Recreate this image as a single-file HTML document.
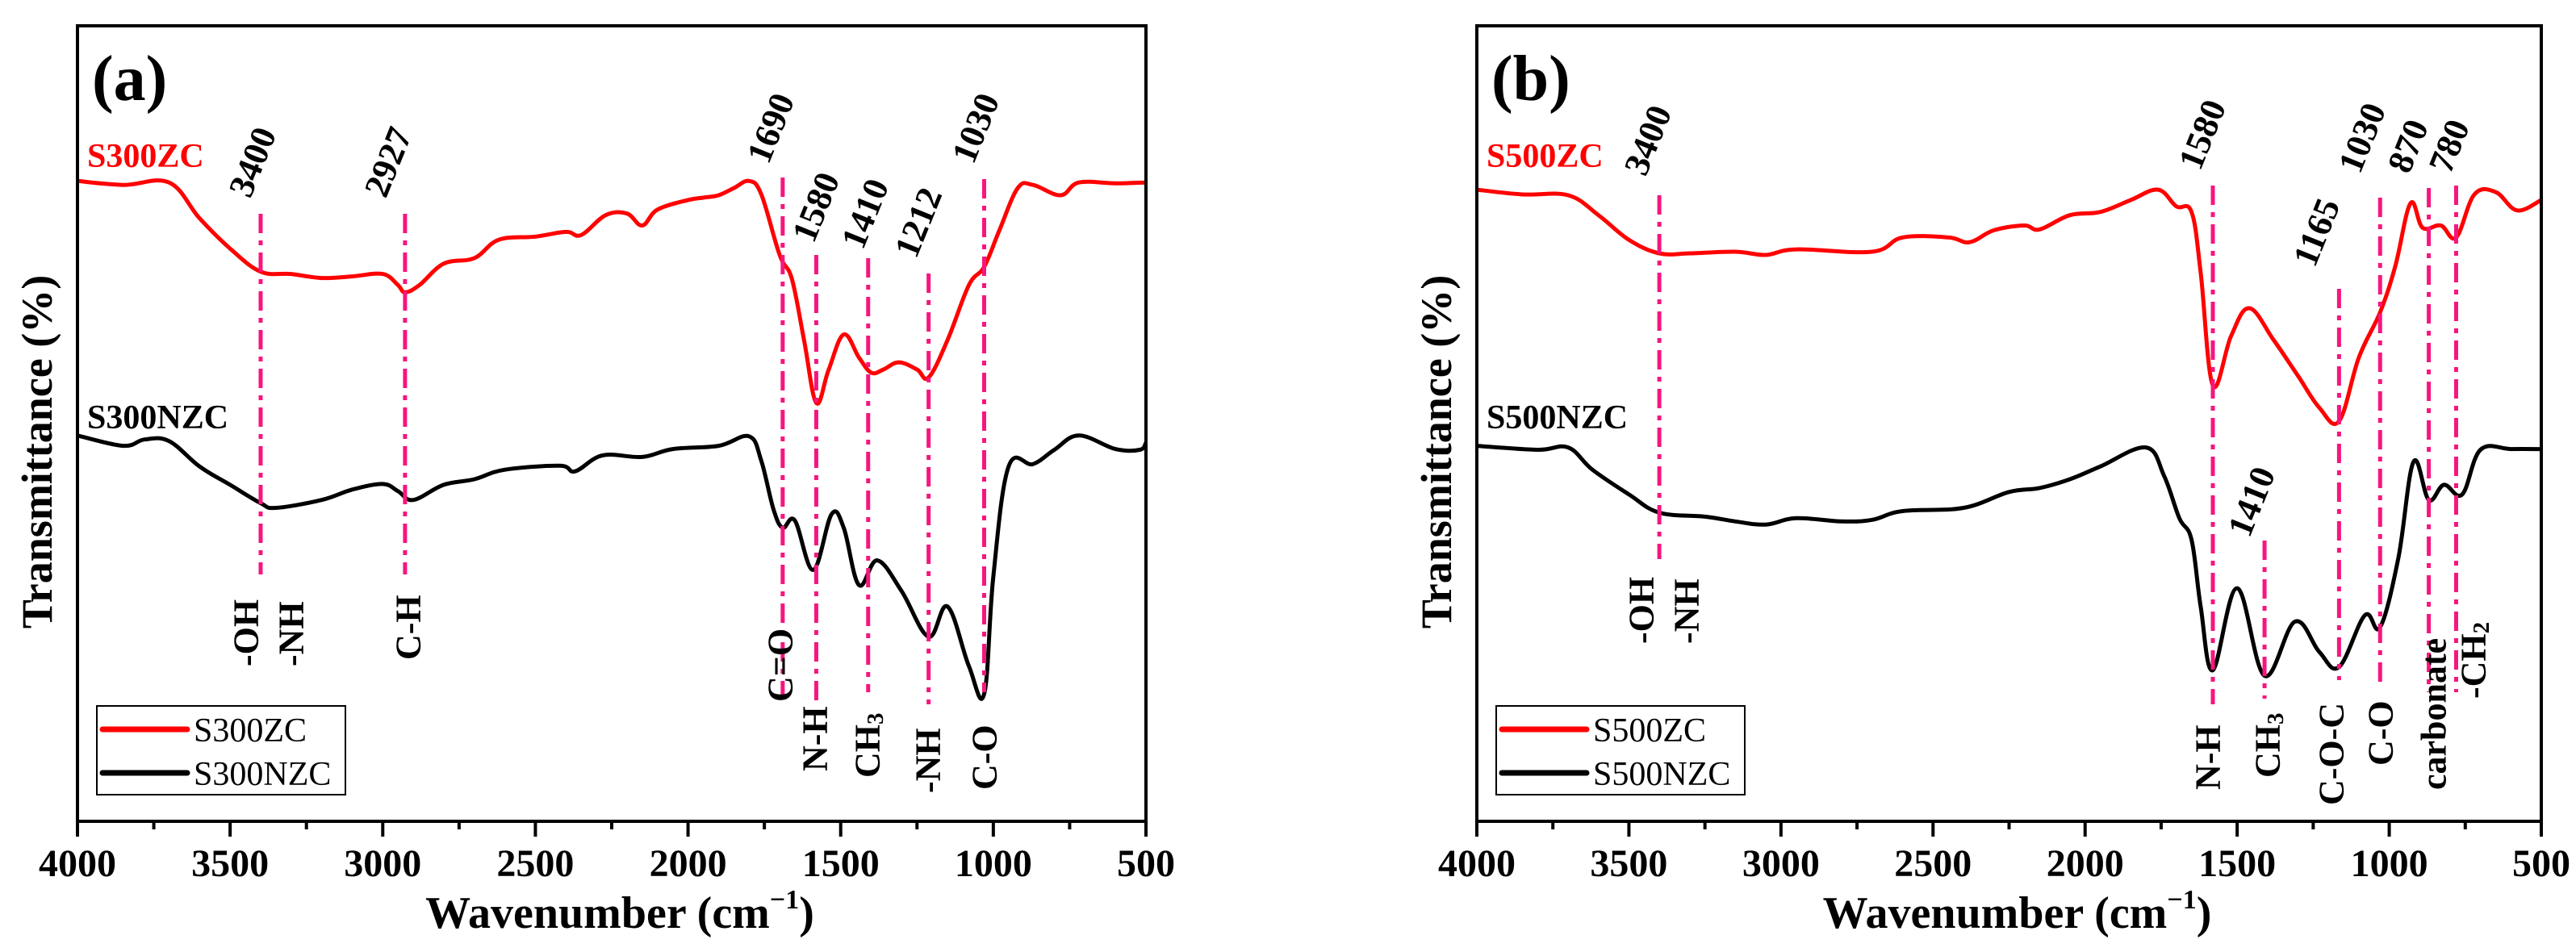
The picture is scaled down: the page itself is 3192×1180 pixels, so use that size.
<!DOCTYPE html>
<html><head><meta charset="utf-8">
<style>
html,body{margin:0;padding:0;background:#fff;}
svg{display:block;font-family:"Liberation Serif","DejaVu Serif",serif;}
</style></head>
<body>
<svg id="chart" width="3192" height="1180" viewBox="0 0 3192 1180" xmlns="http://www.w3.org/2000/svg"></svg>
<script>
// ---- data (wavenumber, transmittance in arbitrary % of axis height) ----
const xTicks = [4000, 3500, 3000, 2500, 2000, 1500, 1000, 500];
const aRedWn = [4000,3850,3700,3600,3500,3400,3300,3200,3100,3000,2950,2927,2880,2800,2700,2620,2500,2400,2350,2270,2200,2150,2100,2000,1950,1900,1850,1800,1760,1700,1660,1620,1580,1540,1490,1440,1400,1360,1310,1250,1212,1150,1080,1030,980,920,870,780,720,600,500];
const aRedT  = [80.5,80.0,80.3,75.8,72.0,69.1,68.8,68.3,68.5,68.8,67.4,66.5,67.4,70.1,70.8,73.1,73.5,74.1,73.7,76.2,76.4,74.9,76.9,78.1,78.4,78.7,79.6,80.5,78.8,71.2,68.2,60.5,52.6,56.7,61.2,58.3,56.4,56.8,57.7,56.8,55.8,60.5,67.4,69.7,74.3,79.6,80.0,78.7,80.3,80.2,80.3];
const aBlkWn = [4000,3850,3780,3700,3600,3500,3400,3350,3200,3100,3000,2950,2900,2800,2700,2600,2420,2370,2280,2150,2050,1900,1800,1760,1720,1690,1650,1590,1530,1490,1440,1380,1300,1212,1150,1080,1030,1000,950,870,800,720,600,520,500];
const aBlkT  = [48.5,47.2,48.0,47.8,44.6,42.3,40.0,39.4,40.4,41.7,42.4,41.5,40.4,42.3,43.0,44.2,44.7,44.0,46.0,45.8,46.8,47.2,48.4,45.3,39.2,36.9,37.8,31.6,38.6,36.9,29.7,32.8,28.9,23.2,27.0,19.5,16.0,30.8,44.6,44.9,46.7,48.5,46.8,46.7,47.6];
const bRedWn = [4000,3850,3700,3600,3500,3400,3300,3150,3050,2950,2700,2600,2450,2380,2300,2200,2150,2050,1950,1850,1760,1700,1650,1620,1580,1520,1460,1380,1300,1230,1165,1100,1030,980,930,890,830,780,720,650,580,500];
const bRedT  = [79.4,78.8,78.7,76.2,73.1,71.4,71.4,71.6,71.2,71.9,71.6,73.4,73.4,72.8,74.3,74.9,74.4,76.2,76.6,78.1,79.4,77.3,76.6,69.0,54.8,61.0,64.5,60.5,56.0,52.0,50.3,58.3,64.0,69.8,77.7,74.6,74.9,73.4,78.8,79.1,76.8,78.1];
const bBlkWn = [4000,3800,3700,3620,3500,3400,3250,3150,3050,2950,2800,2700,2600,2400,2250,2150,2050,1950,1800,1740,1690,1650,1620,1580,1500,1410,1310,1230,1165,1080,1030,970,920,870,820,760,700,600,500];
const bBlkT  = [47.2,46.7,47.0,44.2,41.1,38.8,38.3,37.7,37.3,38.1,37.7,37.9,39.0,39.4,41.4,41.9,43.0,44.6,47.0,43.4,38.1,35.4,27.0,19.0,29.3,18.3,25.1,21.3,19.4,25.9,24.4,33.1,45.2,40.4,42.3,41.1,46.7,46.8,46.8];
const aPeaks = [3400,2927,1690,1580,1410,1212,1030];
const bPeaks = [3400,1580,1410,1165,1030,870,780];

const NS = "http://www.w3.org/2000/svg";
const svg = document.getElementById('chart');
function el(tag, attrs, parent, text){
  const e = document.createElementNS(NS, tag);
  for (const k in attrs) e.setAttribute(k, attrs[k]);
  if (text !== undefined) e.textContent = text;
  (parent||svg).appendChild(e);
  return e;
}
const TOP = 32, BOT = 1018;
function yScale(v){ return BOT - v/100*(BOT-TOP); }

function smoothPath(pts){
  let d = 'M' + pts[0][0].toFixed(1) + ',' + pts[0][1].toFixed(1);
  for (let i=0;i<pts.length-1;i++){
    const p0 = pts[i-1]||pts[i], p1 = pts[i], p2 = pts[i+1], p3 = pts[i+2]||p2;
    const t = 0.18;
    const c1 = [p1[0]+(p2[0]-p0[0])*t, p1[1]+(p2[1]-p0[1])*t];
    const c2 = [p2[0]-(p3[0]-p1[0])*t, p2[1]-(p3[1]-p1[1])*t];
    d += 'C'+c1[0].toFixed(1)+','+c1[1].toFixed(1)+' '+c2[0].toFixed(1)+','+c2[1].toFixed(1)+' '+p2[0].toFixed(1)+','+p2[1].toFixed(1);
  }
  return d;
}

function panel(cfg){
  const g = el('g', {});
  
  
  const L = cfg.left, R = cfg.right;
  const xScale = w => L + (4000 - w)/3500*(R - L);

  const sr = [[cfg.redWn, cfg.redT, '#ff0000', cfg.redName],[cfg.blkWn, cfg.blkT, '#000000', cfg.blkName]];
  sr.forEach(s=>{
    const pts = s[0].map((w,i)=>[xScale(w), yScale(s[1][i])]);
    const p = el('path', {d: smoothPath(pts), fill:'none', stroke:s[2], 'stroke-width':5, 'stroke-linejoin':'round'}, g);
    
    
  });

  cfg.peaks.forEach((w,i)=>{
    const ln = el('line', {x1:xScale(w), x2:xScale(w), y1:cfg.lineTop[i], y2:cfg.lineBot[i], stroke:'#f7157f', 'stroke-width':5, 'stroke-dasharray':'24 9 6 9'}, g);
    
    
    const [tx,ty] = cfg.numPos[i];
    const t = el('text', {x:tx, y:ty, transform:'rotate(-68 '+tx+' '+ty+')', 'font-size':44, 'font-weight':'bold', fill:'#000'}, g, String(w));
    
    
  });

  cfg.groups.forEach(gr=>{
    const [tx,ty,txt,sub] = gr;
    const t = el('text', {x:tx, y:ty, transform:'rotate(-90 '+tx+' '+ty+')', 'font-size':44, 'font-weight':'bold', 'dominant-baseline':'central', fill:'#000'}, g);
    t.appendChild(document.createTextNode(txt));
    if (sub){ el('tspan', {'font-size':29, dy:10}, t, sub); }
    
    
  });

  const fr = el('rect', {x:L, y:TOP, width:R-L, height:BOT-TOP, fill:'none', stroke:'#000', 'stroke-width':4}, g);
  
  

  for (let w=4000; w>=500; w-=250){
    const major = (w % 500 === 0);
    const tk = el('line', {x1:xScale(w), x2:xScale(w), y1:BOT, y2:BOT + (major?19:10), stroke:'#000', 'stroke-width':4}, g);
    
    
  }
  xTicks.forEach(w=>{
    const t = el('text', {x:xScale(w), y:1086, 'text-anchor':'middle', 'font-size':48, 'font-weight':'bold'}, g, String(w));
    
    
  });

  const xt = el('text', {x:(L+R)/2 + 10, y:1150, 'text-anchor':'middle', 'font-size':56, 'font-weight':'bold'}, g);
  xt.appendChild(document.createTextNode('Wavenumber (cm'));
  el('tspan', {'font-size':34, dy:-24}, xt, '\u22121');
  el('tspan', {dy:24}, xt, ')');
  
  
  const yx = L - 50, yy = 560;
  const yt = el('text', {x:yx, y:yy, transform:'rotate(-90 '+yx+' '+yy+')', 'text-anchor':'middle', 'dominant-baseline':'central', 'font-size':54, 'font-weight':'bold'}, g, 'Transmittance (%)');
  
  

  const pl = el('text', {x:L+18, y:124, 'font-size':80, 'font-weight':'bold'}, g, cfg.letter);
  
  
  const rn = el('text', {x:L+12, y:207, 'font-size':42, 'font-weight':'bold', fill:'#ff0000'}, g, cfg.redName);
  
  
  const bn = el('text', {x:L+12, y:531, 'font-size':42, 'font-weight':'bold', fill:'#000'}, g, cfg.blkName);
  
  

  const lg = el('g', {}, g);
  
  
  el('rect', {x:L+24, y:875, width:308, height:110, fill:'#fff', stroke:'#000', 'stroke-width':2}, lg);
  [[cfg.redName,'#ff0000',904],[cfg.blkName,'#000',958]].forEach(e=>{
    const en = el('g', {}, lg);
    
    
    el('line', {x1:L+31, x2:L+136, y1:e[2], y2:e[2], stroke:e[1], 'stroke-width':7, 'stroke-linecap':'round'}, en);
    el('text', {x:L+144, y:e[2]+15, 'font-size':42}, en, e[0]);
  });
}

panel({
  name:'panel-a', letter:'(a)', left:96, right:1420,
  redWn:aRedWn, redT:aRedT, blkWn:aBlkWn, blkT:aBlkT,
  redName:'S300ZC', blkName:'S300NZC',
  peaks:aPeaks,
  lineTop:[265,265,220,316,320,339,222],
  lineBot:[712,712,866,873,858,873,858],
  numPos:[[310,247],[478,247],[952,205],[1008,303],[1069,311],[1135,322],[1206,205]],
  groups:[[305,826,'-OH'],[361,826,'-NH'],[506,818,'C-H'],[967,870,'C=O'],[1010,956,'N-H'],[1075,964,'CH','3'],[1150,983,'-NH'],[1220,979,'C-O']]
});
panel({
  name:'panel-b', letter:'(b)', left:1830, right:3149,
  redWn:bRedWn, redT:bRedT, blkWn:bBlkWn, blkT:bBlkT,
  redName:'S500ZC', blkName:'S500NZC',
  peaks:bPeaks,
  lineTop:[242,230,670,358,245,233,230],
  lineBot:[693,873,866,843,851,858,858],
  numPos:[[2039,220],[2726,213],[2787,668],[2868,333],[2924,217],[2985,217],[3036,217]],
  groups:[[2034,798,'-OH'],[2090,798,'-NH'],[2736,979,'N-H'],[2810,964,'CH','3'],[2889,998,'C-O-C'],[2950,949,'C-O'],[3016,979,'carbonate'],[3065,866,'-CH','2']]
});
</script>
</body></html>
